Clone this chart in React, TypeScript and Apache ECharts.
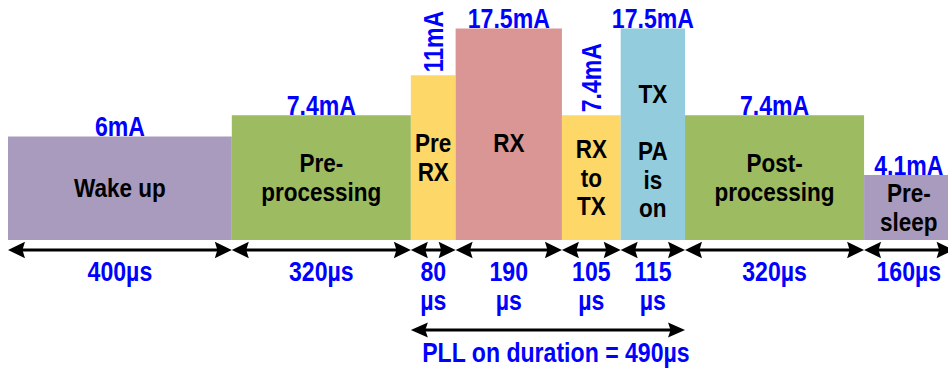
import React, { useEffect, useRef } from "react";
import * as echarts from "echarts";

// ---- data ----
const phases = [
  "Wake up",
  "Pre-\nprocessing",
  "Pre\nRX",
  "RX",
  "RX\nto\nTX",
  "TX\n\nPA\nis\non",
  "Post-\nprocessing",
  "Pre-\nsleep",
];
const durationsUs = [400, 320, 80, 190, 105, 115, 320, 160];
const currentsMA = [6, 7.4, 11, 17.5, 7.4, 17.5, 7.4, 4.1];
const pllOnPhase = [false, false, true, true, true, true, false, false];

// ---- styles ----
const colors = ["#A99BBE", "#9DBB61", "#FDD768", "#D99694", "#FDD768", "#93CDDD", "#9DBB61", "#A99BBE"];
const labelDy = [0, 0, 0, 9, 0, 17, 0, 0];
const FONT = '"Liberation Sans", Arial, sans-serif';
const NARROW_IN = 0.9;
const NARROW_BLUE = 0.84;
const BLUE = "#0000FF";
const Y_MIN = 2.15;
const Y_MAX = 17.5;
const X_MAX = 1680;

function textStyle(text: string, size: number, fill: string, align: string, vAlign: string, lh?: number) {
  const s: any = {
    text,
    x: 0,
    y: 0,
    fill,
    fontSize: size,
    fontWeight: "bold",
    fontFamily: FONT,
    align,
    textAlign: align,
    verticalAlign: vAlign,
    textVerticalAlign: vAlign,
  };
  if (lh) {
    s.lineHeight = lh;
    s.textLineHeight = lh;
  }
  return s;
}

function arrow(x0: number, x1: number, y: number, len = 17, half = 8.2, lw = 3): any[] {
  const notch = len * 0.85;
  return [
    { type: "line", shape: { x1: x0 + notch - 1, y1: y, x2: x1 - notch + 1, y2: y }, style: { stroke: "#000", lineWidth: lw } },
    {
      type: "polygon",
      shape: { points: [[x0, y], [x0 + len, y - half], [x0 + notch, y], [x0 + len, y + half]] },
      style: { fill: "#000" },
    },
    {
      type: "polygon",
      shape: { points: [[x1, y], [x1 - len, y - half], [x1 - notch, y], [x1 - len, y + half]] },
      style: { fill: "#000" },
    },
  ];
}

export default function App() {
  const ref = useRef<HTMLDivElement>(null);

  useEffect(() => {
    if (!ref.current) return;
    const chart = echarts.init(ref.current, undefined, { renderer: "svg" });

    let t = 0;
    const blockData = durationsUs.map((d, i) => {
      const s = t;
      t += d;
      return [s, s + d, currentsMA[i], i];
    });
    const pllItems = blockData.filter((_, i) => pllOnPhase[i]);
    const pllStart = pllItems[0][0];
    const pllEnd = pllItems[pllItems.length - 1][1];
    const pllTotal = durationsUs.reduce((a, d, i) => (pllOnPhase[i] ? a + d : a), 0);

    chart.setOption({
      animation: false,
      grid: { left: 8, right: 0, top: 28.5, bottom: 132 },
      xAxis: { type: "value", min: 0, max: X_MAX, show: false },
      yAxis: { type: "log", logBase: 10, min: Y_MIN, max: Y_MAX, show: false },
      series: [
        {
          type: "custom",
          silent: true,
          clip: false,
          data: blockData,
          renderItem: (_p: any, api: any) => {
            const s = api.value(0);
            const e = api.value(1);
            const c = api.value(2);
            const i = api.value(3);
            const tl = api.coord([s, c]);
            const br = api.coord([e, Y_MIN]);
            const w = br[0] - tl[0];
            const h = br[1] - tl[1];
            const cx = tl[0] + w / 2;
            const narrow = w < 61;
            const cur = `${c}mA`;
            return {
              type: "group",
              children: [
                { type: "rect", shape: { x: tl[0], y: tl[1], width: w, height: h }, style: { fill: colors[i] } },
                {
                  type: "text",
                  x: cx,
                  y: tl[1] + h / 2 + labelDy[i],
                  scaleX: NARROW_IN,
                  style: textStyle(phases[i], 25, "#000", "center", "middle", 28.5),
                },
                narrow
                  ? {
                      type: "text",
                      x: cx,
                      y: tl[1] - 3,
                      rotation: Math.PI / 2,
                      scaleX: NARROW_BLUE,
                      style: textStyle(cur, 27.5, BLUE, "left", "middle"),
                    }
                  : {
                      type: "text",
                      x: cx,
                      y: tl[1] + 4,
                      scaleX: NARROW_BLUE,
                      style: textStyle(cur, 27.5, BLUE, "center", "bottom"),
                    },
              ],
            };
          },
        },
        {
          type: "custom",
          silent: true,
          clip: false,
          data: blockData,
          renderItem: (_p: any, api: any) => {
            const s = api.value(0);
            const e = api.value(1);
            const i = api.value(3);
            const a = api.coord([s, Y_MIN]);
            const b = api.coord([e, Y_MIN]);
            const y = a[1] + 10;
            const d = durationsUs[i];
            const label = pllOnPhase[i] ? `${d}\nµs` : `${d}µs`;
            return {
              type: "group",
              children: [
                ...arrow(a[0], b[0], y),
                {
                  type: "text",
                  x: (a[0] + b[0]) / 2,
                  y: a[1] + 17,
                  scaleX: NARROW_BLUE,
                  style: textStyle(label, 27.5, BLUE, "center", "top", 29),
                },
              ],
            };
          },
        },
        {
          type: "custom",
          silent: true,
          clip: false,
          data: [[pllStart, pllEnd, pllTotal]],
          renderItem: (_p: any, api: any) => {
            const a = api.coord([api.value(0), Y_MIN]);
            const b = api.coord([api.value(1), Y_MIN]);
            const y = a[1] + 90;
            return {
              type: "group",
              children: [
                ...arrow(a[0], b[0], y, 17, 7.6),
                {
                  type: "text",
                  x: (a[0] + b[0]) / 2 + 8,
                  y: a[1] + 112.5,
                  scaleX: NARROW_BLUE,
                  style: textStyle(`PLL on duration = ${api.value(2)}µs`, 27.5, BLUE, "center", "middle"),
                },
              ],
            };
          },
        },
      ],
    });

    return () => chart.dispose();
  }, []);

  return (
    <div
      ref={ref}
      style={{ position: "absolute", left: 0, top: 0, width: 948, height: 372, background: "#fff" }}
    />
  );
}
